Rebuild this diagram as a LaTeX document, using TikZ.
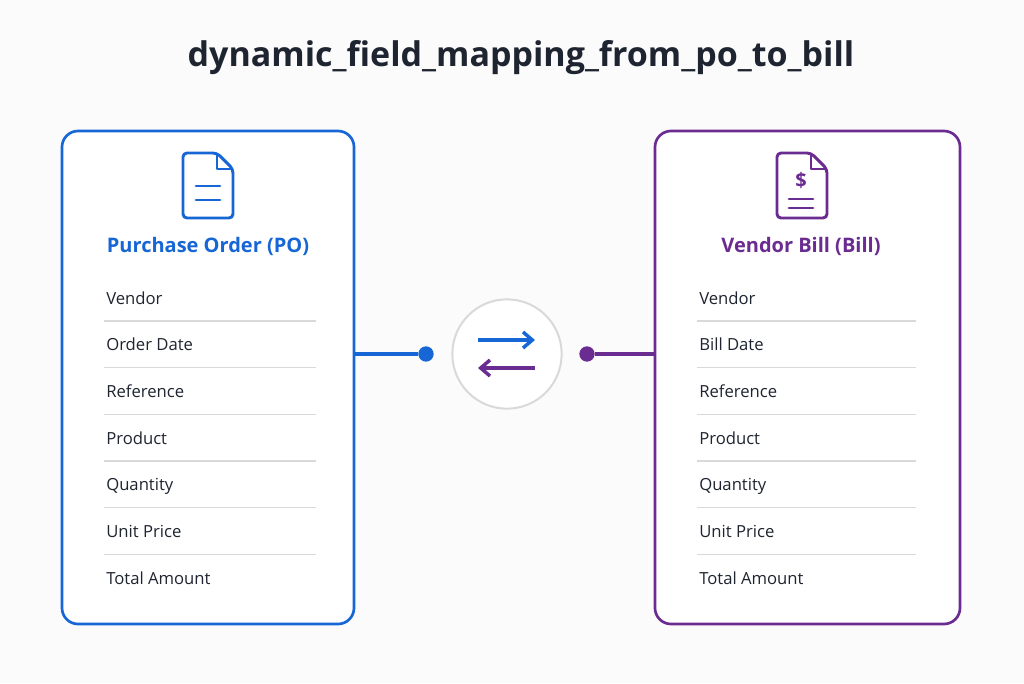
\documentclass[tikz,border=0pt]{standalone}
\usepackage{fontspec}
\setmainfont{Open Sans}
\usetikzlibrary{arrows.meta}
\definecolor{po}{HTML}{1766D6}
\definecolor{bill}{HTML}{6B2C91}
\definecolor{sep}{HTML}{D9D9D9}
\definecolor{ttl}{HTML}{1F2530}
\begin{document}
\begin{tikzpicture}[x=0.75pt,y=-0.75pt,
  box/.style={line width=2pt,rounded corners=12pt},
  fld/.style={anchor=base west,font=\fontsize{12.5}{14}\selectfont,text=ttl,inner sep=0},
  hdr/.style={font=\fontsize{15}{18}\selectfont\bfseries},
  sepl/.style={sep,line width=1pt},
  dot/.style={circle,fill,inner sep=0,minimum size=11.5pt}]
\fill[white!97!gray] (0,0) rectangle (1024,683);
\useasboundingbox (0,0) rectangle (1024,683);
\node[font=\fontsize{25.5}{30}\selectfont\bfseries,text=ttl] (title) at (521,58) {dynamic\_field\_mapping\_from\_po\_to\_bill};
% boxes
\draw[box,po,fill=white] (62,131) rectangle (354,624);
\draw[box,bill,fill=white] (655,131) rectangle (960,624);
% left icon
\draw[po,line width=2.2pt,line join=round,rounded corners=3pt] (183,153) -- (217,153) -- (233,169) -- (233,218) -- (183,218) -- cycle;
\draw[po,line width=2.2pt,line join=round] (217,153) -- (217,169) -- (233,169);
\draw[po,line width=2.2pt,line cap=round] (196,186) -- (220,186) (196,200) -- (220,200);
\node[hdr,text=po] (poh) at (208,246) {Purchase Order (PO)};
% right icon
\draw[bill,line width=2.2pt,line join=round,rounded corners=3pt] (777,153) -- (811,153) -- (827,169) -- (827,218) -- (777,218) -- cycle;
\draw[bill,line width=2.2pt,line join=round] (811,153) -- (811,169) -- (827,169);
\node[bill,font=\fontsize{15}{16}\selectfont\bfseries] (dollar) at (801,180) {\$};
\draw[bill,line width=2.2pt,line cap=round] (789,199) -- (813,199) (789,208) -- (813,208);
\node[hdr,text=bill] (bh) at (801,246) {Vendor Bill (Bill)};
% fields
\foreach \i/\a/\b [count=\k] in {0/Vendor/Vendor,1/Order Date/Bill Date,2/Reference/Reference,3/Product/Product,4/Quantity/Quantity,5/Unit Price/Unit Price,6/Total Amount/Total Amount}{
  \node[fld] (pf\k) at (106,304+46.67*\i) {\a};
  \node[fld] (bf\k) at (699,304+46.67*\i) {\b};
}
\foreach \i in {0,...,5}{
  \draw[sepl] (104,321+46.67*\i) -- (316,321+46.67*\i);
  \draw[sepl] (697,321+46.67*\i) -- (916,321+46.67*\i);
}
% center
\coordinate (pe) at (354,354);
\coordinate (be) at (655,354);
\node[dot,po] (pd) at (426,354) {};
\node[dot,bill] (bd) at (587,354) {};
\draw[po,line width=2.5pt] (pe) -- (pd);
\draw[bill,line width=2.5pt] (bd) -- (be);
\node[circle,draw=sep,line width=1.5pt,fill=white,minimum size=82pt,inner sep=0] (sw) at (507,354) {};
\coordinate (a1) at (478,340); \coordinate (a2) at (535,340);
\coordinate (b1) at (535,368); \coordinate (b2) at (478,368);
\draw[po,line width=2.6pt,-{Straight Barb[length=7pt,width=12pt]}] (a1) -- (a2);
\draw[bill,line width=2.6pt,-{Straight Barb[length=7pt,width=12pt]}] (b1) -- (b2);
\end{tikzpicture}
\end{document}
